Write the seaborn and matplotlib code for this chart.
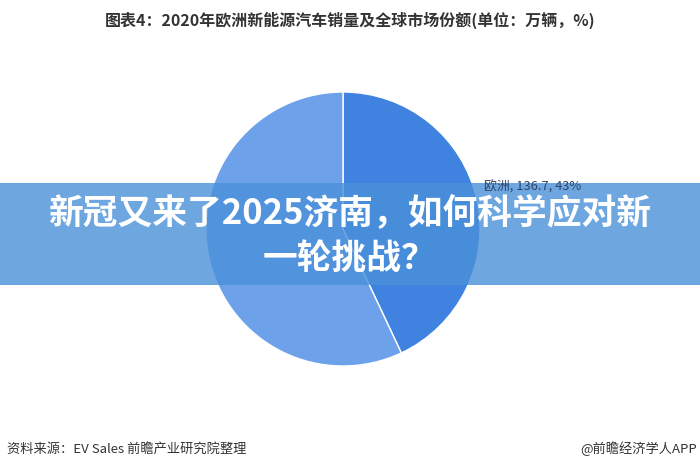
import matplotlib
matplotlib.use("Agg")
import matplotlib.pyplot as plt
import seaborn as sns
from matplotlib.patches import Rectangle

categories = ["欧洲", "其他"]
values = [136.7, 181.2]
shares = ["43%", "57%"]
colors = ["#3f82e0", "#6da2ea"]

title = "图表4：2020年欧洲新能源汽车销量及全球市场份额(单位：万辆，%)"
source = "资料来源：EV Sales 前瞻产业研究院整理"
credit = "@前瞻经济学人APP"
banner_l1 = "新冠又来了2025济南，如何科学应对新"
banner_l2 = "一轮挑战？"

sns.set_theme(style="white")
plt.rcParams['font.family'] = ['Noto Sans CJK SC', 'DejaVu Sans']

W, H = 700, 469
fig = plt.figure(figsize=(7, 4.69), dpi=100)
fig.patch.set_facecolor("white")

cx, cy, r = 343, 229, 137
ax = fig.add_axes([(cx - r) / W, 1 - (cy + r) / H, 2 * r / W, 2 * r / H])
ax.pie(values, colors=colors, startangle=90, counterclock=False,
       wedgeprops=dict(edgecolor="white", linewidth=1))
ax.set_xlim(-1, 1)
ax.set_ylim(-1, 1)
ax.set_aspect("auto")
ax.axis("off")

fig.text(0.5, 1 - 20 / H, title, ha="center", va="center", fontsize=11.5,
         fontweight="bold", color="#333333")
fig.text(7 / W, 1 - 449 / H, source, ha="left", va="center", fontsize=9.5, color="#333333")
fig.text(697 / W, 1 - 449 / H, credit, ha="right", va="center", fontsize=9.5, color="#333333")

fig.patches.append(Rectangle((0, 1 - 285 / H), 1, 102 / H, transform=fig.transFigure,
                             facecolor="#4a90d9", alpha=0.8, edgecolor="none", zorder=5))
fig.text(484 / W, 1 - 187 / H, f"{categories[0]}, {values[0]}, {shares[0]}",
         ha="left", va="center", fontsize=9.3, color="#2c4466", zorder=7)
fig.text(0.5, 1 - 213 / H, banner_l1, ha="center", va="center", fontsize=25,
         fontweight="heavy", color="white", zorder=6)
fig.text(0.5, 1 - 258 / H, banner_l2, ha="center", va="center", fontsize=25,
         fontweight="heavy", color="white", zorder=6)

fig.savefig("out.png", dpi=100, facecolor="white")
